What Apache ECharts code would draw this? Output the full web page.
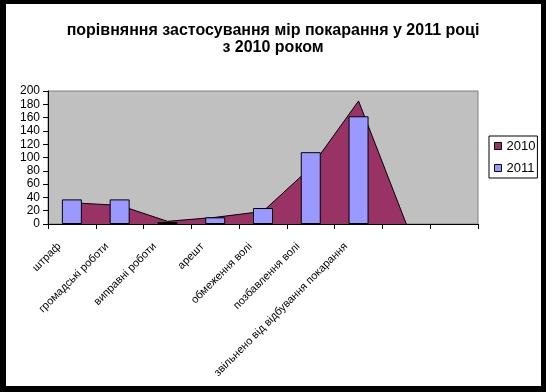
<!DOCTYPE html>
<html>
<head>
<meta charset="utf-8">
<script src="https://cdn.jsdelivr.net/npm/echarts@6/dist/echarts.min.js"></script>
<style>
  html, body { margin: 0; padding: 0; background: #fff; }
  #chart { position: absolute; left: 0; top: 0; width: 546px; height: 392px; }
  #frame { position: absolute; left: 0; top: 0; width: 546px; height: 392px; box-sizing: border-box;
           border-style: solid; border-color: #000; border-width: 4px 5px 6px 6px; pointer-events: none; }
</style>
</head>
<body>
<div id="chart"></div>
<div id="frame"></div>
<script>
const titleText = 'порівняння застосування мір покарання у 2011 році\nз 2010 роком';
const categories = ['штраф', 'громадські роботи', 'виправні роботи', 'арешт', 'обмеження волі',
  'позбавлення волі', 'звільнено від відбування покарання', '', ''];
const seriesNames = ['2010', '2011'];
const values2010 = [32, 28, 4, 10, 19, 85, 185, 0, null];
const values2011 = [37, 37, 3, 10, 24, 108, 162, null, null];
const yTicks = { min: 0, max: 200, interval: 20 };

const FONT = "'Liberation Sans', Arial, sans-serif";
const chart = echarts.init(document.getElementById('chart'), null, { renderer: 'canvas' });
chart.setOption({
  animation: false,
  backgroundColor: '#fff',
  title: {
    text: titleText,
    left: 'center',
    top: 17,
    textStyle: { fontFamily: FONT, fontSize: 16, fontWeight: 'bold', color: '#000', lineHeight: 17 }
  },
  legend: {
    orient: 'vertical',
    left: 489,
    top: 136,
    padding: [3, 2, 3, 5],
    itemGap: 8,
    itemWidth: 7,
    itemHeight: 7,
    borderColor: '#000',
    borderWidth: 1,
    backgroundColor: '#fff',
    textStyle: { fontFamily: FONT, fontSize: 13, color: '#000', lineHeight: 14 },
    data: [
      { name: seriesNames[0], icon: 'rect', itemStyle: { color: '#993366', borderColor: '#000', borderWidth: 1 } },
      { name: seriesNames[1], icon: 'rect', itemStyle: { color: '#9999FF', borderColor: '#000', borderWidth: 1 } }
    ]
  },
  grid: {
    left: 48, top: 91, width: 430, height: 133,
    containLabel: false, outerBoundsMode: 'none',
    show: true, backgroundColor: '#C0C0C0', borderColor: '#808080', borderWidth: 1
  },
  xAxis: {
    type: 'category',
    data: categories,
    boundaryGap: true,
    axisLine: { show: true, lineStyle: { color: '#000', width: 1 } },
    axisTick: { show: true, length: 5, alignWithLabel: false, interval: 0, lineStyle: { color: '#000' } },
    axisLabel: {
      interval: 0, rotate: 45, margin: 8, fontFamily: FONT, fontSize: 11, color: '#000',
      padding: [0, 18, 0, 0]
    },
    splitLine: { show: false }
  },
  yAxis: {
    type: 'value',
    min: yTicks.min, max: yTicks.max, interval: yTicks.interval,
    axisLine: { show: true, lineStyle: { color: '#000', width: 1 } },
    axisTick: { show: true, length: 5, lineStyle: { color: '#000' } },
    axisLabel: { margin: 8, fontFamily: FONT, fontSize: 12, color: '#000' },
    splitLine: { show: false }
  },
  series: [
    {
      name: seriesNames[0],
      type: 'line',
      data: values2010,
      symbol: 'none',
      showSymbol: false,
      connectNulls: false,
      z: 1,
      itemStyle: { color: '#993366' },
      lineStyle: { color: '#000', width: 1 },
      areaStyle: { color: '#993366', opacity: 1 }
    },
    {
      name: seriesNames[1],
      type: 'bar',
      data: values2011,
      barWidth: 20,
      z: 3,
      itemStyle: { color: '#9999FF', borderColor: '#000', borderWidth: 1 }
    }
  ]
});
</script>
</body>
</html>
